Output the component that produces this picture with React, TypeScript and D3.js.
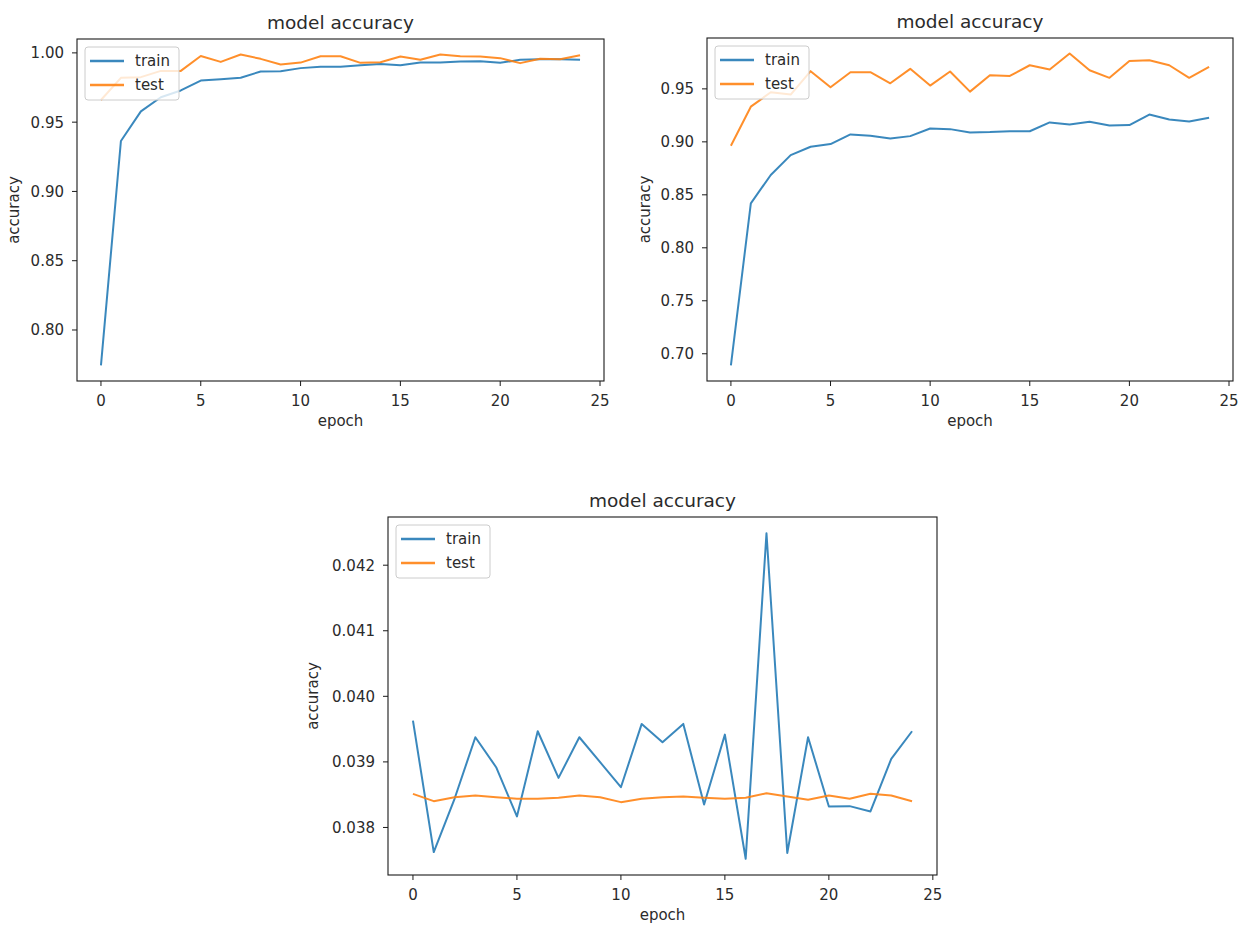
import React from "react";
import * as d3 from "d3";

// Epoch index shared by all three training runs
const EPOCHS = [0, 1, 2, 3, 4, 5, 6, 7, 8, 9, 10, 11, 12, 13, 14, 15, 16, 17, 18, 19, 20, 21, 22, 23, 24];

// Run A
const TRAIN_A = [0.7744, 0.9364, 0.9578, 0.968, 0.9729, 0.98, 0.981, 0.982, 0.9866, 0.9868, 0.989, 0.99, 0.990, 0.991, 0.992, 0.991, 0.993, 0.993, 0.9938, 0.994, 0.9928, 0.995, 0.9954, 0.9954, 0.995];
const TEST_A = [0.966, 0.982, 0.9825, 0.987, 0.987, 0.9978, 0.9935, 0.9988, 0.9957, 0.9916, 0.993, 0.9976, 0.9976, 0.9928, 0.9933, 0.9974, 0.995, 0.9988, 0.9976, 0.9974, 0.9962, 0.9926, 0.9957, 0.9954, 0.9983];

// Run B
const TRAIN_B = [0.689, 0.842, 0.8687, 0.8875, 0.8954, 0.8979, 0.907, 0.9057, 0.9032, 0.9054, 0.9126, 0.912, 0.9089, 0.9092, 0.91, 0.91, 0.9183, 0.9164, 0.9189, 0.9155, 0.9158, 0.9258, 0.9211, 0.9192, 0.9227];
const TEST_B = [0.8963, 0.9332, 0.9468, 0.9446, 0.9667, 0.9515, 0.9657, 0.9657, 0.9553, 0.9689, 0.9531, 0.9664, 0.9474, 0.9629, 0.9622, 0.9723, 0.9682, 0.9833, 0.9676, 0.9604, 0.9764, 0.977, 0.9723, 0.9604, 0.9707];

// Run C
const TRAIN_C = [0.039629, 0.037624, 0.038437, 0.039376, 0.038919, 0.038168, 0.039467, 0.038756, 0.039376, 0.038995, 0.038614, 0.039579, 0.0393, 0.039579, 0.03835, 0.039416, 0.037523, 0.042487, 0.03761, 0.039376, 0.03832, 0.038325, 0.038244, 0.039046, 0.039467];
const TEST_C = [0.038513, 0.038401, 0.038462, 0.038487, 0.038462, 0.038437, 0.038437, 0.038452, 0.038487, 0.038462, 0.038386, 0.038437, 0.038462, 0.038472, 0.038452, 0.038437, 0.038452, 0.038523, 0.038472, 0.038421, 0.038487, 0.038437, 0.038513, 0.038487, 0.038401];

const X_TICKS = [0, 5, 10, 15, 20, 25];
const Y_TICKS_A = [0.8, 0.85, 0.9, 0.95, 1.0];
const Y_TICKS_B = [0.7, 0.75, 0.8, 0.85, 0.9, 0.95];
const Y_TICKS_C = [0.038, 0.039, 0.04, 0.041, 0.042];

const SERIES_NAMES = ["train", "test"];
const SERIES_COLORS = ["#1f77b4", "#ff7f0e"];
const TITLE = "model accuracy";
const X_LABEL = "epoch";
const Y_LABEL = "accuracy";

const FONT = "'DejaVu Sans', Verdana, sans-serif";
const TEXT = "#2b2b2b";

type PanelProps = {
  left: number;
  right: number;
  top: number;
  bottom: number;
  train: number[];
  test: number[];
  yTicks: number[];
  fmt: string;
  yLabelOffset: number;
};

// matplotlib-style 5% data margin on each side
function padded(lo: number, hi: number): [number, number] {
  const m = (hi - lo) * 0.05;
  return [lo - m, hi + m];
}

function Panel({ left, right, top, bottom, train, test, yTicks, fmt, yLabelOffset }: PanelProps) {
  const xExt = d3.extent(EPOCHS) as [number, number];
  const x = d3.scaleLinear().domain(padded(xExt[0], xExt[1])).range([left, right]);
  const yExt = d3.extent([...train, ...test]) as [number, number];
  const y = d3.scaleLinear().domain(padded(yExt[0], yExt[1])).range([bottom, top]);
  const format = d3.format(fmt);
  const line = d3
    .line<number>()
    .x((_, i) => x(EPOCHS[i]))
    .y((v) => y(v));
  const series = [train, test];
  const cx = (left + right) / 2;
  const cy = (top + bottom) / 2;

  const lgX = left + 8;
  const lgY = top + 8;

  return (
    <g fontFamily={FONT} fill={TEXT}>
      <text x={cx} y={top - 10} textAnchor="middle" fontSize={18.5}>
        {TITLE}
      </text>

      {series.map((s, k) => (
        <path
          key={k}
          d={line(s) || ""}
          fill="none"
          stroke={SERIES_COLORS[k]}
          strokeOpacity={0.88}
          strokeWidth={2}
          strokeLinejoin="round"
        />
      ))}

      <rect x={left} y={top} width={right - left} height={bottom - top} fill="none" stroke="#1a1a1a" strokeWidth={1.1} />

      {X_TICKS.map((t) => (
        <g key={"x" + t}>
          <line x1={x(t)} x2={x(t)} y1={bottom} y2={bottom + 5} stroke="#1a1a1a" strokeWidth={1} />
          <text x={x(t)} y={bottom + 25} textAnchor="middle" fontSize={15}>
            {t}
          </text>
        </g>
      ))}
      {yTicks.map((t) => (
        <g key={"y" + t}>
          <line x1={left - 5} x2={left} y1={y(t)} y2={y(t)} stroke="#1a1a1a" strokeWidth={1} />
          <text x={left - 13} y={y(t)} dy="0.36em" textAnchor="end" fontSize={15}>
            {format(t)}
          </text>
        </g>
      ))}

      <text x={cx} y={bottom + 45} textAnchor="middle" fontSize={15}>
        {X_LABEL}
      </text>
      <text
        transform={`translate(${left - yLabelOffset},${cy}) rotate(-90)`}
        textAnchor="middle"
        fontSize={15}
      >
        {Y_LABEL}
      </text>

      <g>
        <rect x={lgX} y={lgY} width={94} height={53} rx={3} fill="#ffffff" fillOpacity={0.8} stroke="#cccccc" strokeWidth={1} />
        {SERIES_NAMES.map((name, k) => (
          <g key={name}>
            <line
              x1={lgX + 5}
              x2={lgX + 39}
              y1={lgY + 14 + k * 24}
              y2={lgY + 14 + k * 24}
              stroke={SERIES_COLORS[k]}
              strokeOpacity={0.88}
              strokeWidth={2.5}
            />
            <text x={lgX + 50} y={lgY + 14 + k * 24} dy="0.36em" fontSize={15}>
              {name}
            </text>
          </g>
        ))}
      </g>
    </g>
  );
}

export default function App() {
  return (
    <svg
      width={1244}
      height={926}
      viewBox="0 0 1244 926"
      style={{ position: "absolute", left: 0, top: 0, background: "#ffffff" }}
    >
      <rect width={1244} height={926} fill="#ffffff" />
      <Panel left={77} right={604} top={39} bottom={381} train={TRAIN_A} test={TEST_A} yTicks={Y_TICKS_A} fmt=".2f" yLabelOffset={58} />
      <Panel left={707} right={1233} top={38} bottom={381} train={TRAIN_B} test={TEST_B} yTicks={Y_TICKS_B} fmt=".2f" yLabelOffset={57} />
      <Panel left={388} right={937} top={517} bottom={875} train={TRAIN_C} test={TEST_C} yTicks={Y_TICKS_C} fmt=".3f" yLabelOffset={70} />
    </svg>
  );
}
